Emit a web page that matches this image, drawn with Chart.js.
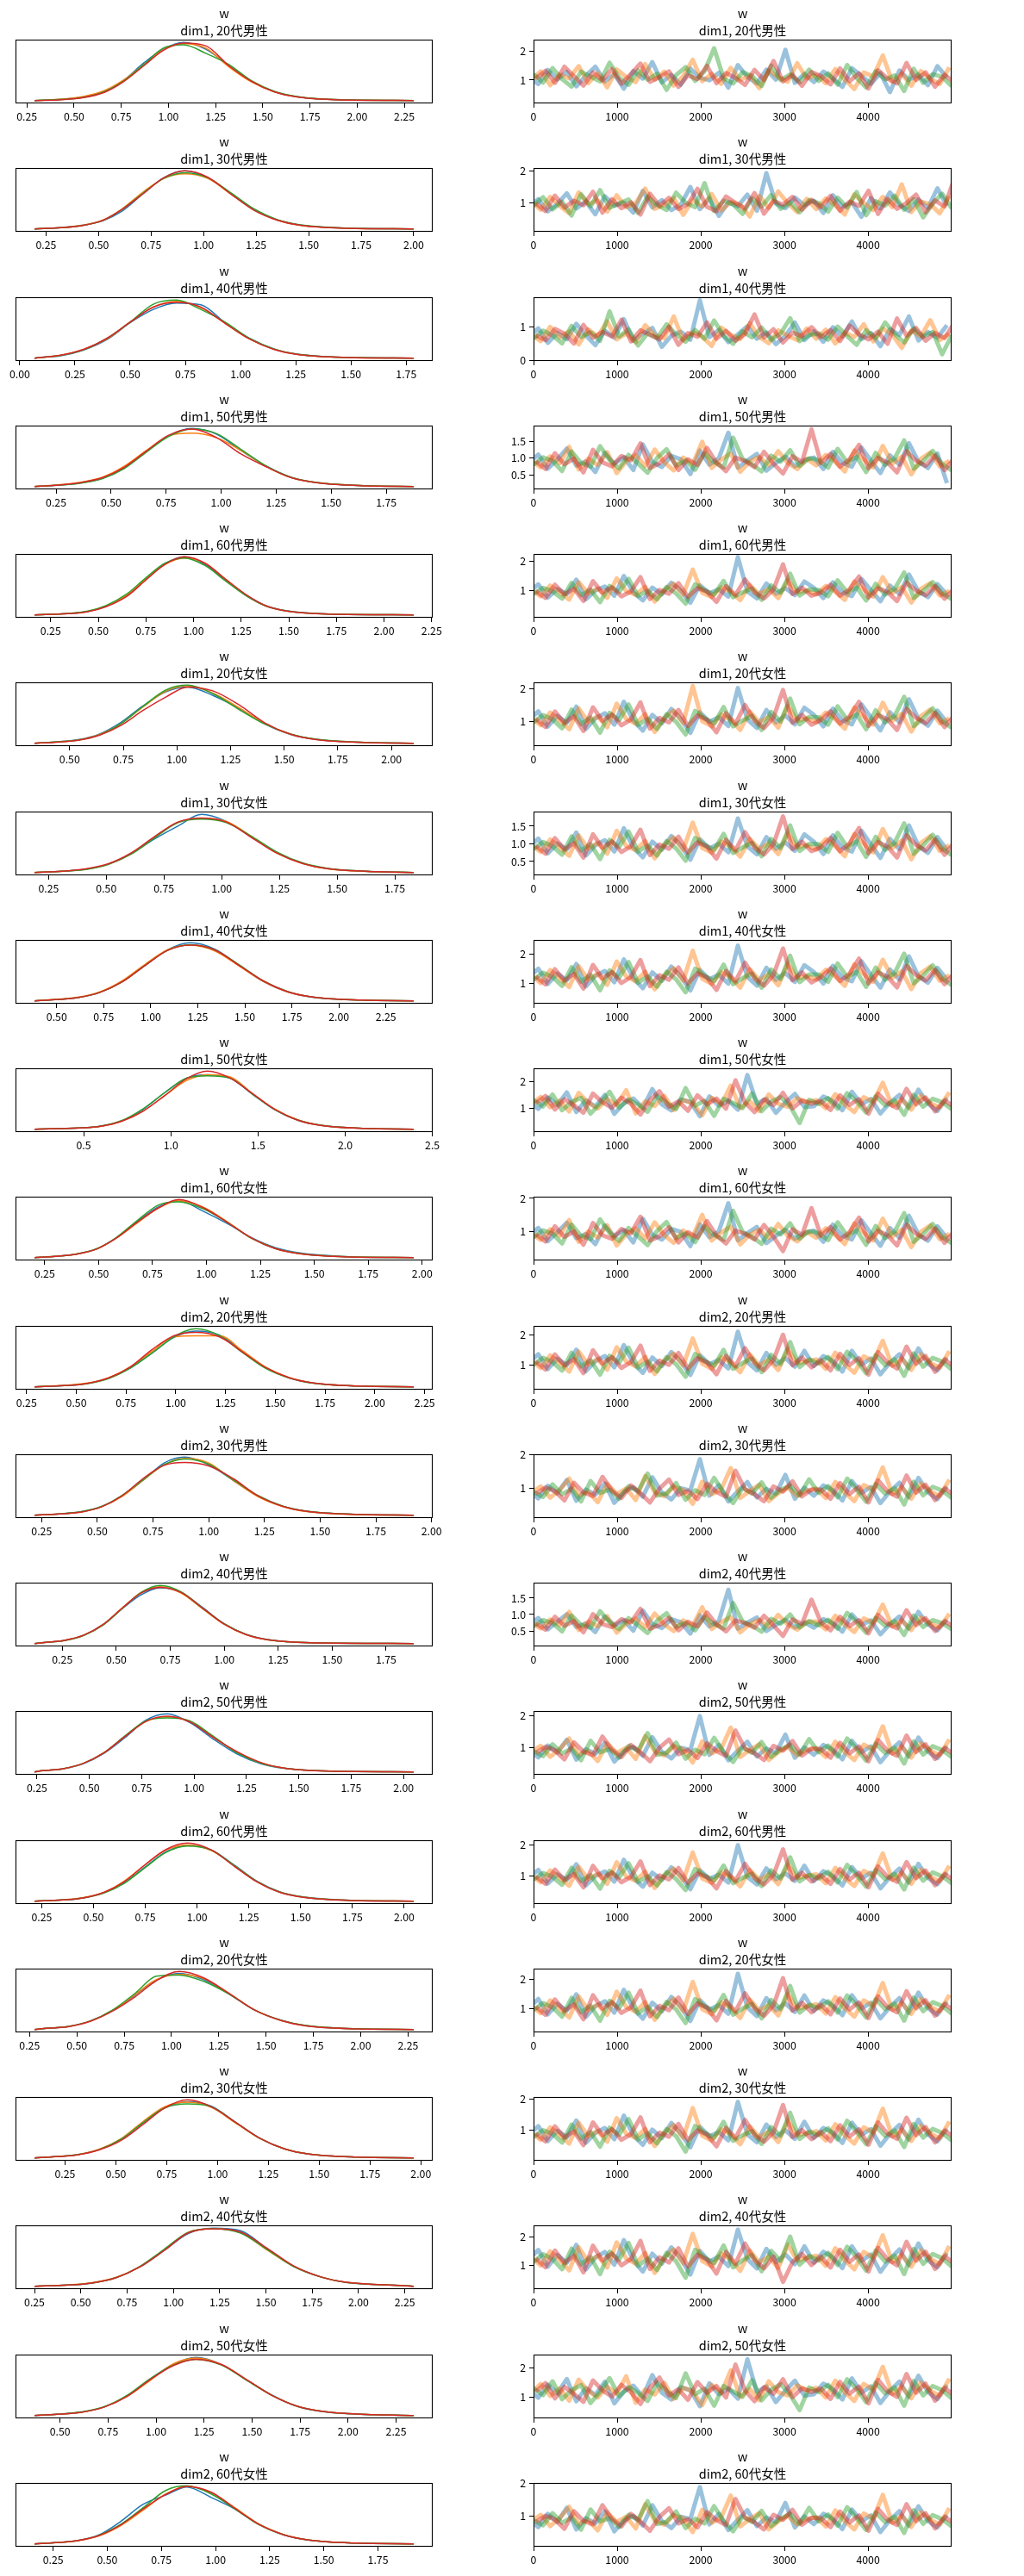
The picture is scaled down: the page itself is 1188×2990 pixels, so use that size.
<!DOCTYPE html>
<html>
<head>
<meta charset="utf-8">
<script src="https://cdn.jsdelivr.net/npm/chart.js@4.4.1/dist/chart.umd.min.js"></script>
<style>
  html, body { margin: 0; padding: 0; background: #fff; }
  #fig { position: relative; width: 1188px; height: 2990px; overflow: hidden; }
  #fig canvas { position: absolute; }
</style>
</head>
<body>
<div id="fig"></div>
<script>
// ==========================================
//  TRACE PLOT: posterior density + chains
// ==========================================

// === DATA ===
const panelNames = [
  'dim1, 20代男性', 'dim1, 30代男性', 'dim1, 40代男性', 'dim1, 50代男性', 'dim1, 60代男性',
  'dim1, 20代女性', 'dim1, 30代女性', 'dim1, 40代女性', 'dim1, 50代女性', 'dim1, 60代女性',
  'dim2, 20代男性', 'dim2, 30代男性', 'dim2, 40代男性', 'dim2, 50代男性', 'dim2, 60代男性',
  'dim2, 20代女性', 'dim2, 30代女性', 'dim2, 40代女性', 'dim2, 50代女性', 'dim2, 60代女性'
];

// x positions of the density curves (value of w), one row per panel
const kdeGrid = [
  [0.29,0.44,0.55,0.66,0.76,0.87,0.97,1.08,1.20,1.32,1.44,1.56,1.68,1.91,2.30],
  [0.195,0.32,0.42,0.52,0.61,0.71,0.81,0.91,1.02,1.13,1.24,1.35,1.46,1.68,2.00],
  [0.067,0.09,0.185,0.29,0.395,0.50,0.605,0.71,0.82,0.93,1.04,1.15,1.26,1.48,1.784],
  [0.152,0.25,0.35,0.46,0.56,0.66,0.76,0.866,0.98,1.09,1.21,1.32,1.44,1.66,1.875],
  [0.165,0.34,0.44,0.54,0.65,0.75,0.85,0.953,1.06,1.17,1.28,1.38,1.49,1.71,2.156],
  [0.336,0.43,0.54,0.64,0.74,0.84,0.95,1.05,1.17,1.29,1.41,1.53,1.65,1.89,2.104],
  [0.189,0.31,0.41,0.51,0.61,0.71,0.81,0.913,1.02,1.13,1.24,1.35,1.46,1.68,1.832],
  [0.382,0.49,0.61,0.73,0.85,0.97,1.09,1.21,1.34,1.47,1.60,1.73,1.86,2.12,2.398],
  [0.218,0.475,0.60,0.72,0.84,0.965,1.09,1.21,1.34,1.47,1.60,1.73,1.86,2.12,2.393],
  [0.203,0.30,0.39,0.49,0.58,0.68,0.78,0.872,0.985,1.10,1.21,1.32,1.44,1.66,1.961],
  [0.29,0.44,0.55,0.66,0.77,0.88,0.99,1.10,1.22,1.335,1.45,1.57,1.69,1.92,2.195],
  [0.218,0.33,0.43,0.52,0.61,0.705,0.80,0.891,1.00,1.11,1.22,1.33,1.44,1.66,1.92],
  [0.121,0.175,0.26,0.35,0.44,0.527,0.615,0.703,0.80,0.90,1.00,1.10,1.20,1.40,1.878],
  [0.238,0.275,0.375,0.47,0.57,0.67,0.77,0.872,0.98,1.09,1.205,1.32,1.43,1.65,2.049],
  [0.215,0.35,0.45,0.55,0.65,0.75,0.85,0.953,1.07,1.18,1.29,1.40,1.52,1.74,2.046],
  [0.276,0.34,0.46,0.57,0.69,0.81,0.92,1.04,1.17,1.31,1.44,1.58,1.71,1.98,2.28],
  [0.10,0.20,0.31,0.42,0.53,0.635,0.74,0.852,0.97,1.09,1.21,1.33,1.45,1.69,1.965],
  [0.25,0.43,0.56,0.69,0.82,0.95,1.08,1.216,1.36,1.51,1.65,1.80,1.94,2.23,2.298],
  [0.367,0.485,0.61,0.73,0.85,0.967,1.09,1.208,1.34,1.475,1.61,1.74,1.88,2.14,2.342],
  [0.164,0.26,0.36,0.46,0.56,0.665,0.77,0.867,0.98,1.09,1.20,1.315,1.43,1.65,1.915]
];

// relative density of each chain at the kdeGrid positions
const kdeBlue = [
  [0,0.02,0.06,0.15,0.34,0.65,0.88,1.0,0.88,0.6,0.33,0.155,0.065,0.012,0],
  [0,0.02,0.06,0.14,0.30,0.60,0.88,1.0,0.88,0.61,0.34,0.155,0.065,0.012,0],
  [0,0.01,0.04,0.14,0.32,0.61,0.84,0.95,0.92,0.61,0.34,0.16,0.065,0.012,0],
  [0,0.02,0.055,0.14,0.32,0.60,0.87,1.0,0.90,0.62,0.34,0.155,0.065,0.012,0],
  [0,0.02,0.055,0.145,0.33,0.61,0.88,1.0,0.87,0.59,0.335,0.16,0.07,0.015,0],
  [0,0.02,0.06,0.16,0.36,0.64,0.89,0.97,0.82,0.60,0.33,0.15,0.065,0.012,0],
  [0,0.02,0.055,0.145,0.33,0.58,0.80,1.0,0.88,0.61,0.34,0.16,0.065,0.012,0],
  [0,0.02,0.055,0.145,0.33,0.61,0.88,1.0,0.89,0.61,0.33,0.15,0.06,0.012,0],
  [0,0.02,0.055,0.145,0.34,0.63,0.88,0.94,0.88,0.60,0.33,0.15,0.065,0.012,0],
  [0,0.02,0.055,0.145,0.33,0.62,0.88,0.98,0.80,0.58,0.34,0.17,0.075,0.015,0],
  [0,0.02,0.055,0.145,0.32,0.58,0.85,0.96,0.89,0.61,0.335,0.155,0.065,0.012,0],
  [0,0.02,0.06,0.15,0.33,0.60,0.90,1.0,0.87,0.60,0.33,0.155,0.065,0.012,0],
  [0,0.02,0.055,0.145,0.33,0.60,0.84,0.96,0.88,0.62,0.34,0.16,0.07,0.015,0],
  [0,0.02,0.055,0.14,0.32,0.59,0.89,1.0,0.85,0.57,0.31,0.14,0.06,0.012,0],
  [0,0.02,0.055,0.145,0.32,0.59,0.85,0.96,0.88,0.62,0.34,0.16,0.07,0.015,0],
  [0,0.02,0.055,0.145,0.33,0.60,0.85,0.97,0.86,0.60,0.335,0.155,0.065,0.012,0],
  [0,0.02,0.055,0.145,0.33,0.61,0.86,0.97,0.89,0.61,0.335,0.155,0.065,0.012,0],
  [0,0.02,0.055,0.145,0.33,0.61,0.90,0.99,0.95,0.63,0.34,0.155,0.065,0.012,0],
  [0,0.02,0.055,0.145,0.33,0.62,0.88,1.0,0.88,0.61,0.34,0.15,0.06,0.012,0],
  [0,0.02,0.055,0.15,0.38,0.68,0.84,0.98,0.80,0.60,0.34,0.155,0.065,0.012,0]
];
const kdeOrange = [
  [0,0.025,0.07,0.17,0.35,0.62,0.87,0.98,0.9,0.58,0.32,0.15,0.065,0.012,0],
  [0,0.02,0.06,0.15,0.34,0.63,0.87,0.95,0.87,0.60,0.335,0.15,0.06,0.01,0],
  [0,0.01,0.045,0.15,0.33,0.62,0.88,0.98,0.87,0.60,0.33,0.155,0.06,0.01,0],
  [0,0.025,0.065,0.16,0.35,0.62,0.87,0.92,0.84,0.62,0.335,0.15,0.065,0.012,0],
  [0,0.02,0.055,0.15,0.34,0.62,0.87,0.98,0.89,0.61,0.33,0.155,0.065,0.012,0],
  [0,0.02,0.055,0.15,0.34,0.62,0.90,0.99,0.86,0.61,0.335,0.155,0.065,0.012,0],
  [0,0.02,0.055,0.145,0.33,0.61,0.86,0.93,0.88,0.62,0.33,0.155,0.06,0.01,0],
  [0,0.025,0.06,0.155,0.35,0.63,0.88,0.96,0.86,0.60,0.33,0.15,0.065,0.012,0],
  [0,0.02,0.05,0.14,0.31,0.58,0.84,0.94,0.90,0.61,0.34,0.155,0.065,0.012,0],
  [0,0.02,0.055,0.145,0.33,0.60,0.86,0.98,0.87,0.61,0.33,0.155,0.065,0.012,0],
  [0,0.025,0.06,0.15,0.34,0.61,0.86,0.88,0.88,0.62,0.34,0.16,0.065,0.012,0],
  [0,0.02,0.055,0.145,0.32,0.60,0.87,0.98,0.90,0.60,0.32,0.15,0.06,0.01,0],
  [0,0.02,0.055,0.145,0.33,0.61,0.88,0.98,0.87,0.60,0.33,0.155,0.065,0.012,0],
  [0,0.02,0.055,0.145,0.33,0.61,0.87,0.95,0.87,0.60,0.34,0.155,0.065,0.012,0],
  [0,0.02,0.06,0.15,0.35,0.63,0.88,0.97,0.87,0.61,0.335,0.155,0.065,0.012,0],
  [0,0.02,0.055,0.145,0.33,0.61,0.86,0.95,0.88,0.61,0.335,0.155,0.065,0.012,0],
  [0,0.02,0.055,0.15,0.34,0.63,0.88,0.96,0.87,0.60,0.33,0.155,0.065,0.012,0],
  [0,0.02,0.06,0.15,0.34,0.62,0.92,0.98,0.92,0.61,0.335,0.155,0.065,0.012,0],
  [0,0.02,0.055,0.145,0.33,0.60,0.89,0.99,0.88,0.61,0.335,0.155,0.065,0.012,0],
  [0,0.02,0.05,0.135,0.31,0.58,0.86,0.99,0.88,0.62,0.34,0.16,0.065,0.012,0]
];
const kdeGreen = [
  [0,0.02,0.055,0.15,0.33,0.62,0.9,0.96,0.81,0.62,0.34,0.16,0.07,0.012,0],
  [0,0.02,0.055,0.145,0.33,0.61,0.87,0.97,0.88,0.62,0.34,0.16,0.07,0.015,0],
  [0,0.01,0.045,0.145,0.34,0.62,0.93,1.0,0.84,0.62,0.34,0.16,0.065,0.012,0],
  [0,0.02,0.05,0.135,0.31,0.59,0.86,0.99,0.91,0.64,0.34,0.155,0.065,0.012,0],
  [0,0.025,0.06,0.16,0.36,0.64,0.89,0.98,0.85,0.58,0.32,0.15,0.065,0.012,0],
  [0,0.02,0.055,0.145,0.34,0.63,0.92,1.0,0.85,0.58,0.33,0.16,0.07,0.012,0],
  [0,0.02,0.05,0.14,0.32,0.60,0.86,0.92,0.86,0.62,0.35,0.165,0.07,0.015,0],
  [0,0.02,0.055,0.145,0.33,0.61,0.87,0.97,0.88,0.62,0.34,0.16,0.065,0.012,0],
  [0,0.02,0.055,0.15,0.35,0.63,0.88,0.92,0.88,0.60,0.33,0.16,0.07,0.012,0],
  [0,0.02,0.055,0.15,0.34,0.64,0.91,0.96,0.84,0.60,0.33,0.155,0.065,0.012,0],
  [0,0.02,0.05,0.14,0.32,0.58,0.86,1.0,0.88,0.59,0.32,0.15,0.06,0.012,0],
  [0,0.02,0.06,0.15,0.34,0.61,0.87,0.97,0.88,0.61,0.34,0.16,0.07,0.015,0],
  [0,0.02,0.05,0.14,0.32,0.60,0.88,1.0,0.89,0.61,0.34,0.16,0.065,0.012,0],
  [0,0.02,0.055,0.145,0.33,0.62,0.88,0.93,0.88,0.62,0.33,0.15,0.065,0.012,0],
  [0,0.02,0.055,0.14,0.31,0.58,0.84,0.95,0.88,0.61,0.335,0.155,0.065,0.012,0],
  [0,0.02,0.055,0.145,0.34,0.63,0.92,0.94,0.83,0.60,0.335,0.16,0.07,0.012,0],
  [0,0.02,0.055,0.145,0.33,0.61,0.86,0.93,0.88,0.61,0.335,0.155,0.065,0.012,0],
  [0,0.02,0.055,0.145,0.34,0.63,0.92,0.98,0.91,0.62,0.335,0.155,0.06,0.012,0],
  [0,0.02,0.06,0.15,0.35,0.63,0.87,0.97,0.87,0.60,0.335,0.155,0.065,0.012,0],
  [0,0.02,0.055,0.145,0.33,0.62,0.92,1.0,0.86,0.60,0.33,0.155,0.065,0.012,0]
];
const kdeRed = [
  [0,0.015,0.05,0.14,0.32,0.6,0.86,0.99,0.94,0.6,0.33,0.15,0.06,0.01,0],
  [0,0.02,0.055,0.145,0.33,0.60,0.88,1.0,0.89,0.60,0.32,0.15,0.06,0.01,0],
  [0,0.01,0.05,0.15,0.34,0.62,0.88,0.96,0.88,0.60,0.33,0.15,0.06,0.01,0],
  [0,0.02,0.06,0.15,0.33,0.61,0.88,0.99,0.84,0.56,0.33,0.15,0.06,0.01,0],
  [0,0.02,0.05,0.14,0.32,0.60,0.87,1.0,0.89,0.61,0.34,0.155,0.065,0.012,0],
  [0,0.015,0.05,0.14,0.31,0.56,0.80,0.97,0.90,0.66,0.35,0.155,0.06,0.01,0],
  [0,0.02,0.06,0.15,0.34,0.62,0.87,0.94,0.87,0.60,0.33,0.155,0.065,0.012,0],
  [0,0.02,0.055,0.145,0.33,0.61,0.87,0.96,0.88,0.61,0.34,0.155,0.065,0.012,0],
  [0,0.02,0.05,0.14,0.31,0.58,0.87,1.0,0.88,0.61,0.335,0.155,0.065,0.012,0],
  [0,0.02,0.055,0.145,0.33,0.61,0.86,1.0,0.86,0.60,0.335,0.155,0.06,0.01,0],
  [0,0.02,0.055,0.15,0.34,0.64,0.88,0.94,0.86,0.60,0.335,0.155,0.065,0.012,0],
  [0,0.02,0.055,0.145,0.33,0.63,0.86,0.91,0.85,0.63,0.335,0.155,0.065,0.012,0],
  [0,0.02,0.055,0.145,0.33,0.61,0.87,0.97,0.88,0.61,0.335,0.155,0.065,0.012,0],
  [0,0.02,0.055,0.145,0.33,0.61,0.87,0.96,0.86,0.60,0.35,0.16,0.065,0.012,0],
  [0,0.02,0.055,0.15,0.34,0.63,0.89,1.0,0.88,0.60,0.33,0.15,0.06,0.01,0],
  [0,0.02,0.05,0.14,0.32,0.57,0.84,1.0,0.89,0.61,0.335,0.155,0.06,0.01,0],
  [0,0.02,0.05,0.14,0.31,0.58,0.86,1.0,0.88,0.61,0.335,0.155,0.065,0.012,0],
  [0,0.02,0.055,0.145,0.33,0.61,0.91,0.98,0.93,0.64,0.345,0.155,0.065,0.012,0],
  [0,0.02,0.055,0.145,0.33,0.61,0.86,0.97,0.88,0.61,0.335,0.155,0.065,0.012,0],
  [0,0.02,0.055,0.14,0.32,0.60,0.85,0.99,0.89,0.61,0.335,0.155,0.065,0.012,0]
];

const kdeTicks = [
  [0.25,0.5,0.75,1,1.25,1.5,1.75,2,2.25],
  [0.25,0.5,0.75,1,1.25,1.5,1.75,2],
  [0,0.25,0.5,0.75,1,1.25,1.5,1.75],
  [0.25,0.5,0.75,1,1.25,1.5,1.75],
  [0.25,0.5,0.75,1,1.25,1.5,1.75,2,2.25],
  [0.5,0.75,1,1.25,1.5,1.75,2],
  [0.25,0.5,0.75,1,1.25,1.5,1.75],
  [0.5,0.75,1,1.25,1.5,1.75,2,2.25],
  [0.5,1,1.5,2,2.5],
  [0.25,0.5,0.75,1,1.25,1.5,1.75,2],
  [0.25,0.5,0.75,1,1.25,1.5,1.75,2,2.25],
  [0.25,0.5,0.75,1,1.25,1.5,1.75,2],
  [0.25,0.5,0.75,1,1.25,1.5,1.75],
  [0.25,0.5,0.75,1,1.25,1.5,1.75,2],
  [0.25,0.5,0.75,1,1.25,1.5,1.75,2],
  [0.25,0.5,0.75,1,1.25,1.5,1.75,2,2.25],
  [0.25,0.5,0.75,1,1.25,1.5,1.75,2],
  [0.25,0.5,0.75,1,1.25,1.5,1.75,2,2.25],
  [0.5,0.75,1,1.25,1.5,1.75,2,2.25],
  [0.25,0.5,0.75,1,1.25,1.5,1.75]
];

// thinned draws of each chain, one row per panel
const traceBlue = [
  [1.12,0.86,1.35,1.02,1.28,0.78,1.15,1.46,0.95,1.20,0.70,1.31,1.05,1.62,0.92,1.18,0.84,1.40,1.08,0.99,1.25,0.74,1.52,1.11,0.88,1.36,1.01,2.05,0.90,1.22,0.93,1.29,1.06,0.76,1.41,1.15,0.87,1.24,0.58,1.33,1.00,1.19,0.82,1.48,1.09],
  [0.88,1.12,0.74,0.97,1.30,0.83,1.05,0.65,1.21,0.92,1.01,0.70,1.38,0.86,1.09,0.78,0.95,1.50,0.81,1.14,0.60,1.02,0.90,1.26,0.76,1.93,0.98,0.84,1.17,0.93,1.07,0.69,1.24,0.88,1.02,0.57,1.15,0.83,1.33,0.94,0.75,1.11,0.85,1.46,0.91],
  [0.70,0.95,0.52,0.81,0.63,1.08,0.74,0.45,0.88,0.67,1.22,0.58,0.79,0.96,0.40,0.73,0.85,0.61,1.78,0.69,0.90,0.54,0.77,1.01,0.64,0.83,0.48,0.72,1.12,0.60,0.86,0.55,0.98,0.70,1.15,0.63,0.81,0.42,0.92,0.75,1.30,0.59,0.84,0.67,1.04],
  [0.86,1.10,0.68,0.95,1.28,0.77,0.90,0.58,1.15,0.83,1.02,0.64,1.40,0.88,0.73,1.06,0.96,0.52,1.22,0.80,0.99,1.75,0.71,0.92,1.12,0.62,0.85,1.04,0.75,0.94,1.01,0.67,1.18,0.85,0.74,1.31,0.92,0.55,1.08,0.80,1.44,0.89,0.70,1.13,0.25],
  [0.95,1.21,0.76,1.05,0.88,1.37,0.70,1.00,1.14,0.82,1.50,0.93,0.66,1.10,0.87,1.27,0.99,0.58,1.18,0.91,1.04,0.79,2.15,0.97,0.73,1.24,0.89,1.08,0.84,1.31,1.09,0.74,1.28,0.93,0.81,1.40,1.01,0.63,1.17,0.88,1.55,0.97,0.77,1.22,0.86],
  [1.05,1.31,0.84,1.17,0.96,1.45,0.77,1.09,1.25,0.90,1.60,1.02,0.72,1.20,0.94,1.38,1.07,0.65,1.28,0.99,1.13,0.86,2.02,1.06,0.80,1.35,0.97,1.18,0.91,1.42,1.20,0.85,1.39,1.03,0.91,1.52,1.12,0.73,1.28,0.98,1.68,1.08,0.87,1.33,0.97],
  [0.91,1.15,0.73,1.01,0.84,1.32,0.67,0.96,1.10,0.78,1.44,0.89,0.62,1.06,0.83,1.22,0.95,0.55,1.13,0.87,1.00,0.76,1.72,0.93,0.70,1.19,0.86,1.04,0.80,1.27,1.06,0.71,1.24,0.90,0.78,1.37,0.98,0.60,1.14,0.85,1.52,0.94,0.74,1.19,0.83],
  [1.20,1.50,0.97,1.33,1.10,1.66,0.88,1.25,1.42,1.03,1.82,1.16,0.82,1.37,1.07,1.57,1.22,0.74,1.46,1.13,1.29,0.98,2.30,1.21,0.91,1.53,1.11,1.35,1.04,1.62,1.38,0.98,1.60,1.19,1.06,1.76,1.28,0.84,1.47,1.13,1.93,1.24,1.01,1.53,1.12],
  [1.25,0.98,1.41,1.13,1.60,0.86,1.30,1.07,1.50,0.79,1.19,1.37,1.02,1.72,1.15,0.92,1.33,1.24,0.70,1.45,1.10,1.28,0.95,2.25,1.18,1.36,0.83,1.22,1.54,1.05,1.08,1.44,1.27,0.93,1.62,1.15,1.35,0.81,1.21,1.50,1.02,1.70,1.18,0.90,1.39],
  [0.87,1.10,0.70,0.97,1.26,0.79,0.92,0.61,1.17,0.85,1.03,0.66,1.38,0.89,0.75,1.07,0.98,0.55,1.21,0.82,1.00,1.85,0.73,0.94,1.13,0.64,0.86,1.05,0.77,0.95,1.02,0.68,1.20,0.86,0.75,1.33,0.94,0.56,1.10,0.81,1.47,0.90,0.71,1.15,0.79],
  [1.09,1.36,0.87,1.21,1.00,1.51,0.80,1.13,1.30,0.93,1.66,1.06,0.75,1.25,0.97,1.43,1.11,0.68,1.33,1.03,1.17,0.89,2.10,1.10,0.83,1.40,1.01,1.23,0.95,1.47,0.97,1.30,1.14,0.79,1.47,1.02,1.22,0.70,1.08,1.36,0.90,1.55,1.05,0.83,1.25],
  [0.93,0.71,1.08,0.86,1.25,0.64,0.97,0.82,1.15,0.58,0.90,1.04,0.76,1.33,0.88,0.68,1.01,0.94,1.86,0.79,1.10,0.62,0.92,1.19,0.74,0.99,0.85,1.40,0.70,1.02,0.79,1.09,0.95,0.65,1.22,0.87,1.04,0.57,0.91,1.17,0.74,1.31,0.89,0.69,1.06],
  [0.70,0.89,0.55,0.78,1.01,0.62,0.73,0.47,0.94,0.67,0.82,0.51,1.12,0.71,0.59,0.86,0.77,0.42,0.98,0.64,0.80,1.75,0.57,0.75,0.91,0.50,0.69,0.84,0.61,0.76,0.60,0.86,0.74,0.48,1.00,0.69,0.82,0.40,0.71,0.94,0.57,1.08,0.70,0.52,0.85],
  [0.91,0.69,1.06,0.84,1.24,0.62,0.95,0.80,1.14,0.56,0.88,1.02,0.74,1.32,0.86,0.66,0.99,0.92,1.98,0.77,1.08,0.60,0.90,1.18,0.72,0.97,0.83,1.40,0.68,1.00,0.77,1.08,0.93,0.63,1.21,0.85,1.03,0.54,0.89,1.16,0.72,1.31,0.87,0.67,1.05],
  [0.95,1.20,0.77,1.06,0.89,1.38,0.71,1.01,1.15,0.83,1.52,0.94,0.67,1.11,0.88,1.28,1.00,0.59,1.19,0.92,1.05,0.80,1.98,0.98,0.74,1.25,0.90,1.09,0.85,1.33,0.85,1.16,1.01,0.71,1.29,0.93,1.11,0.62,0.97,1.24,0.80,1.39,0.95,0.75,1.13],
  [1.03,1.33,0.80,1.16,0.93,1.49,0.71,1.08,1.25,0.86,1.65,0.99,0.65,1.20,0.90,1.40,1.05,0.57,1.29,0.96,1.12,0.82,2.20,1.04,0.74,1.36,0.94,1.18,0.88,1.45,0.92,1.28,1.11,0.77,1.46,1.00,1.20,0.66,1.05,1.36,0.85,1.55,1.02,0.79,1.24],
  [0.85,1.12,0.64,0.97,0.76,1.30,0.58,0.90,1.06,0.70,1.46,0.82,0.52,1.01,0.73,1.22,0.87,0.44,1.10,0.79,0.93,0.66,1.90,0.86,0.60,1.17,0.77,0.99,0.71,1.26,0.74,1.06,0.91,0.58,1.23,0.84,1.02,0.49,0.87,1.16,0.69,1.33,0.85,0.63,1.04],
  [1.20,1.53,0.94,1.35,1.08,1.71,0.84,1.26,1.46,1.01,1.88,1.16,0.77,1.40,1.05,1.62,1.22,0.66,1.50,1.12,1.30,0.96,2.25,1.21,0.88,1.57,1.10,1.37,1.03,1.66,1.08,1.47,1.27,0.89,1.66,1.15,1.37,0.76,1.21,1.55,0.99,1.76,1.17,0.92,1.42],
  [1.24,0.97,1.42,1.12,1.61,0.85,1.30,1.06,1.51,0.78,1.18,1.38,1.01,1.74,1.14,0.91,1.33,1.23,0.68,1.46,1.09,1.28,0.94,2.28,1.17,1.36,0.82,1.21,1.55,1.04,1.09,1.45,1.27,0.91,1.63,1.14,1.36,0.79,1.20,1.52,1.00,1.72,1.17,0.92,1.40],
  [0.90,0.67,1.07,0.82,1.25,0.60,0.94,0.78,1.14,0.54,0.87,1.01,0.72,1.33,0.85,0.64,0.98,0.91,1.88,0.75,1.07,0.58,0.89,1.18,0.70,0.96,0.82,1.40,0.66,0.99,0.76,1.07,0.92,0.61,1.20,0.84,1.02,0.52,0.88,1.15,0.71,1.30,0.86,0.66,1.04]
];
const traceOrange = [
  [0.98,1.30,0.82,1.19,1.06,1.48,0.89,1.24,0.75,1.37,1.10,0.93,1.55,1.02,1.29,0.81,1.14,1.70,0.96,1.21,0.87,1.42,1.00,1.16,0.72,1.34,1.09,0.94,1.58,1.05,1.17,0.89,1.38,1.01,0.69,1.26,1.12,1.85,0.94,1.22,0.80,1.31,1.04,0.86,1.44],
  [1.05,0.79,1.19,0.91,0.68,1.33,0.96,1.08,0.73,1.24,0.87,1.00,1.45,0.82,0.94,1.16,0.63,1.10,0.89,1.28,0.77,1.03,0.95,0.58,1.22,0.85,1.36,0.99,0.72,1.13,0.81,1.14,0.93,0.64,1.27,1.00,0.78,1.19,0.87,1.58,0.72,1.05,0.96,0.68,1.21],
  [0.78,0.57,0.99,0.68,0.86,0.47,0.92,0.71,1.15,0.62,0.80,0.53,1.04,0.75,0.66,1.30,0.59,0.84,0.70,0.43,0.97,0.76,0.63,1.10,0.69,0.51,0.89,0.73,0.60,0.94,0.64,0.91,0.50,0.82,0.69,1.07,0.56,0.94,0.76,0.37,0.88,0.71,1.19,0.60,0.79],
  [0.93,0.72,1.05,0.84,1.33,0.66,0.98,0.79,1.17,0.55,0.90,1.08,0.76,1.25,0.87,0.63,1.01,0.82,1.48,0.70,0.95,1.13,0.59,0.89,1.03,0.78,1.20,0.85,0.67,0.97,0.78,1.09,0.88,0.60,1.22,0.95,0.72,1.36,0.83,1.04,0.51,0.97,1.16,0.75,0.91],
  [1.02,0.80,1.17,0.94,0.69,1.29,0.90,1.07,0.75,1.42,0.98,0.85,1.13,0.62,1.01,1.23,0.86,1.72,0.92,0.78,1.11,0.96,0.67,1.19,0.88,1.05,0.74,1.35,0.93,1.00,0.87,1.16,0.96,0.68,1.31,1.03,0.79,1.46,0.91,1.12,0.59,1.05,1.25,0.83,0.99],
  [1.12,0.88,1.27,1.03,0.76,1.40,0.98,1.16,0.82,1.54,1.08,0.93,1.22,0.68,1.10,1.33,0.95,2.08,1.01,0.85,1.21,1.05,0.74,1.30,0.97,1.14,0.81,1.47,1.02,1.09,0.98,1.27,1.07,0.78,1.43,1.14,0.90,1.57,1.02,1.23,0.69,1.16,1.36,0.94,1.10],
  [0.97,0.77,1.12,0.90,0.66,1.24,0.86,1.03,0.72,1.37,0.94,0.82,1.08,0.59,0.97,1.18,0.83,1.60,0.88,0.75,1.07,0.92,0.64,1.14,0.85,1.01,0.71,1.30,0.90,0.96,0.84,1.13,0.93,0.65,1.28,1.00,0.76,1.42,0.88,1.09,0.56,1.02,1.22,0.80,0.96],
  [1.28,1.00,1.45,1.17,0.86,1.59,1.12,1.32,0.94,1.75,1.23,1.06,1.39,0.78,1.26,1.51,1.08,2.12,1.15,0.97,1.38,1.20,0.84,1.48,1.10,1.30,0.92,1.67,1.16,1.24,1.13,1.46,1.23,0.90,1.65,1.31,1.04,1.81,1.18,1.41,0.79,1.34,1.57,1.08,1.27],
  [1.16,1.43,1.04,1.29,0.88,1.58,1.21,0.99,1.35,1.12,1.68,0.81,1.26,1.09,1.47,0.94,1.31,1.19,0.74,1.40,1.14,1.85,1.01,1.27,0.90,1.52,1.17,1.06,1.38,1.23,1.31,1.00,1.53,1.14,0.86,1.42,1.25,1.96,1.09,1.33,0.95,1.48,1.19,1.04,1.60],
  [0.94,0.74,1.06,0.86,1.34,0.68,0.99,0.81,1.18,0.57,0.91,1.09,0.78,1.27,0.88,0.65,1.02,0.84,1.50,0.72,0.96,1.14,0.60,0.90,1.04,0.80,1.22,0.87,0.69,0.98,0.80,1.09,0.89,0.61,1.24,0.96,0.72,1.38,0.84,1.05,0.52,0.98,1.18,0.76,0.92],
  [1.16,0.91,1.32,1.07,0.79,1.45,1.02,1.20,0.85,1.59,1.12,0.96,1.27,0.71,1.14,1.38,0.99,1.88,1.05,0.88,1.26,1.09,0.77,1.35,1.00,1.18,0.84,1.52,1.06,1.13,1.19,0.88,1.41,1.03,0.75,1.29,1.13,1.80,0.98,1.21,0.84,1.35,1.07,0.92,1.46],
  [0.87,1.06,0.73,0.96,1.29,0.80,0.91,0.60,1.13,0.84,1.00,0.66,1.37,0.89,0.77,1.05,0.95,0.55,1.20,0.83,0.98,1.60,0.72,0.93,1.11,0.63,0.86,1.03,0.78,0.94,1.00,0.72,1.19,0.88,0.63,1.10,0.96,1.62,0.83,1.03,0.70,1.14,0.92,0.78,1.26],
  [0.75,0.58,0.85,0.68,1.08,0.53,0.79,0.64,0.95,0.45,0.72,0.88,0.61,1.03,0.70,0.50,0.82,0.66,1.22,0.56,0.77,0.92,0.46,0.71,0.84,0.63,0.99,0.69,0.54,0.78,0.79,0.55,0.96,0.69,0.47,0.88,0.75,1.30,0.64,0.81,0.53,0.91,0.72,0.61,1.02],
  [0.86,1.05,0.71,0.95,1.28,0.78,0.89,0.58,1.12,0.83,0.99,0.64,1.36,0.88,0.75,1.04,0.94,0.53,1.19,0.81,0.97,1.62,0.70,0.92,1.10,0.61,0.85,1.02,0.76,0.93,0.98,0.70,1.18,0.86,0.61,1.09,0.94,1.66,0.81,1.02,0.68,1.13,0.90,0.76,1.25],
  [1.03,0.81,1.18,0.95,0.70,1.30,0.91,1.08,0.76,1.44,0.99,0.86,1.14,0.63,1.02,1.24,0.87,1.75,0.93,0.79,1.12,0.97,0.68,1.20,0.89,1.06,0.75,1.36,0.94,1.01,1.06,0.78,1.26,0.94,0.69,1.17,1.02,1.72,0.89,1.10,0.76,1.21,0.98,0.84,1.33],
  [1.10,0.84,1.28,1.00,0.69,1.42,0.95,1.14,0.78,1.58,1.06,0.89,1.22,0.61,1.08,1.34,0.91,1.92,0.98,0.80,1.21,1.03,0.67,1.31,0.93,1.12,0.76,1.50,0.99,1.07,1.15,0.83,1.39,1.01,0.72,1.28,1.10,1.88,0.95,1.19,0.81,1.33,1.06,0.90,1.47],
  [0.92,0.68,1.08,0.83,0.56,1.23,0.79,0.97,0.62,1.38,0.88,0.74,1.03,0.48,0.90,1.15,0.75,1.70,0.81,0.66,1.02,0.86,0.54,1.11,0.77,0.94,0.61,1.29,0.82,0.89,0.96,0.66,1.18,0.83,0.56,1.08,0.92,1.68,0.79,1.00,0.64,1.13,0.88,0.73,1.27],
  [1.28,0.98,1.48,1.17,0.81,1.63,1.11,1.33,0.91,1.80,1.23,1.04,1.42,0.72,1.26,1.55,1.06,2.10,1.14,0.95,1.41,1.20,0.79,1.51,1.09,1.30,0.89,1.72,1.16,1.25,1.33,0.97,1.59,1.17,0.85,1.46,1.26,2.05,1.10,1.35,0.94,1.51,1.22,1.03,1.67],
  [1.15,1.44,1.03,1.29,0.87,1.59,1.20,0.98,1.35,1.11,1.70,0.80,1.25,1.08,1.48,0.93,1.31,1.18,0.72,1.41,1.13,1.90,1.00,1.27,0.89,1.53,1.16,1.05,1.39,1.22,1.31,0.98,1.55,1.16,0.86,1.44,1.25,2.02,1.10,1.34,0.95,1.49,1.21,1.04,1.62],
  [0.85,1.04,0.70,0.94,1.28,0.77,0.88,0.57,1.11,0.82,0.98,0.63,1.36,0.87,0.74,1.03,0.93,0.52,1.19,0.80,0.96,1.62,0.69,0.91,1.09,0.60,0.84,1.01,0.75,0.92,0.97,0.69,1.17,0.85,0.60,1.08,0.93,1.64,0.80,1.01,0.67,1.12,0.89,0.75,1.24]
];
const traceGreen = [
  [1.20,0.91,1.41,1.03,0.77,1.29,1.12,0.95,1.60,1.08,0.83,1.34,1.01,1.22,0.66,1.17,1.45,0.97,1.31,2.10,1.06,0.88,1.27,1.14,0.79,1.50,1.00,1.19,0.92,1.36,0.97,1.23,0.84,1.52,1.07,0.74,1.30,1.02,1.16,0.62,1.39,0.90,1.20,1.11,0.79],
  [0.92,1.18,0.80,1.04,0.61,1.27,0.90,1.40,0.85,0.99,1.11,0.69,1.20,0.94,0.78,1.32,1.01,0.87,1.62,0.75,1.07,0.96,0.66,1.15,0.89,1.25,0.82,1.03,0.71,1.09,1.00,0.73,1.17,0.86,1.34,0.62,1.06,0.92,1.23,0.79,1.12,0.55,0.98,1.29,0.84],
  [0.65,0.88,0.74,0.50,1.02,0.69,0.83,0.58,1.45,0.71,0.92,0.44,0.80,0.66,1.07,0.77,0.55,0.90,0.64,1.18,0.73,0.49,0.86,0.68,0.97,0.61,0.79,1.25,0.57,0.75,0.80,0.61,1.00,0.72,0.46,0.89,0.66,1.12,0.78,0.53,0.95,0.70,0.84,0.18,0.74],
  [0.80,1.02,0.91,0.61,1.19,0.85,0.74,1.35,0.94,0.69,1.09,0.83,0.56,1.00,1.26,0.78,0.92,0.65,1.14,0.88,0.72,1.60,0.97,0.81,0.60,1.07,0.89,1.23,0.76,0.99,0.94,0.71,1.27,0.87,1.03,0.58,1.15,0.79,0.99,1.52,0.68,0.90,1.21,0.82,0.63],
  [0.89,1.09,0.97,0.72,1.26,0.84,1.03,0.60,1.16,0.95,1.40,0.81,0.99,0.70,1.12,0.90,0.55,1.22,1.01,0.86,1.33,0.77,0.94,1.07,0.68,1.18,0.92,1.58,0.83,1.04,1.02,0.80,1.35,0.94,1.10,0.66,1.23,0.86,1.06,1.62,0.75,0.98,1.29,0.89,0.71],
  [0.98,1.19,1.06,0.79,1.36,0.92,1.12,0.66,1.26,1.04,1.52,0.89,1.08,0.77,1.22,0.99,0.60,1.32,1.10,0.94,1.44,0.85,1.03,1.17,0.74,1.29,1.00,1.70,0.91,1.14,1.13,0.90,1.46,1.05,1.21,0.76,1.34,0.97,1.17,1.75,0.86,1.09,1.40,1.00,0.81],
  [0.86,1.05,0.93,0.69,1.21,0.81,0.99,0.57,1.11,0.91,1.35,0.78,0.95,0.67,1.08,0.87,0.52,1.17,0.97,0.83,1.28,0.74,0.90,1.03,0.65,1.14,0.88,1.52,0.80,1.00,0.99,0.77,1.31,0.91,1.07,0.63,1.20,0.83,1.03,1.58,0.72,0.95,1.26,0.86,0.68],
  [1.12,1.36,1.21,0.90,1.55,1.05,1.28,0.75,1.44,1.18,1.73,1.01,1.23,0.87,1.39,1.13,0.68,1.50,1.25,1.07,1.64,0.96,1.17,1.33,0.84,1.47,1.14,1.95,1.03,1.30,1.30,1.04,1.68,1.21,1.39,0.87,1.54,1.11,1.35,2.02,0.99,1.25,1.62,1.15,0.93],
  [1.30,1.07,1.52,0.93,1.24,1.39,0.80,1.18,1.62,1.03,1.33,1.14,0.87,1.47,1.21,0.97,1.76,1.10,1.28,0.72,1.36,1.20,1.01,1.56,0.89,1.25,1.42,1.08,0.45,1.32,1.16,1.38,0.99,1.57,1.26,0.84,1.45,1.11,1.30,0.76,1.51,1.06,1.36,1.23,0.97],
  [0.82,1.03,0.92,0.63,1.20,0.86,0.76,1.36,0.95,0.71,1.10,0.84,0.58,1.01,1.28,0.80,0.93,0.67,1.15,0.89,0.74,1.62,0.98,0.83,0.62,1.08,0.90,1.24,0.78,1.00,0.95,0.73,1.27,0.87,1.03,0.59,1.16,0.79,0.99,1.55,0.68,0.91,1.22,0.82,0.64],
  [1.02,1.24,1.10,0.82,1.41,0.96,1.16,0.69,1.31,1.08,1.58,0.92,1.12,0.80,1.27,1.03,0.62,1.37,1.14,0.98,1.50,0.88,1.07,1.22,0.77,1.34,1.04,1.76,0.94,1.19,1.05,1.27,0.87,1.44,1.15,0.73,1.33,1.00,1.19,0.65,1.39,0.95,1.24,1.12,0.86],
  [0.90,0.75,1.12,0.83,0.99,0.62,1.22,0.87,0.97,0.70,1.07,0.92,1.44,0.79,0.86,1.16,0.67,0.95,0.81,1.31,0.89,0.57,1.02,0.85,1.18,0.73,0.96,1.09,0.80,1.27,0.87,1.07,0.74,1.29,0.97,0.61,1.13,0.85,1.01,0.53,1.20,0.80,1.05,0.94,0.72],
  [0.65,0.83,0.74,0.49,0.97,0.68,0.60,1.10,0.76,0.56,0.89,0.67,0.44,0.81,1.04,0.63,0.74,0.52,0.93,0.71,0.58,1.35,0.79,0.66,0.48,0.87,0.72,1.00,0.61,0.80,0.67,0.84,0.57,1.05,0.77,0.45,0.90,0.66,0.80,0.38,0.97,0.62,0.83,0.74,0.55],
  [0.88,0.73,1.10,0.81,0.97,0.60,1.21,0.85,0.95,0.68,1.05,0.90,1.45,0.77,0.84,1.15,0.65,0.93,0.79,1.30,0.87,0.55,1.00,0.83,1.17,0.71,0.94,1.08,0.78,1.26,0.85,1.06,0.72,1.28,0.95,0.59,1.12,0.83,0.99,0.50,1.19,0.78,1.04,0.92,0.70],
  [0.90,1.10,0.98,0.73,1.27,0.85,1.04,0.61,1.17,0.96,1.41,0.82,1.00,0.71,1.13,0.91,0.56,1.23,1.02,0.87,1.34,0.78,0.95,1.08,0.69,1.19,0.93,1.60,0.84,1.05,0.93,1.14,0.80,1.36,1.03,0.67,1.20,0.91,1.07,0.58,1.27,0.86,1.12,1.00,0.78],
  [0.95,1.19,1.04,0.72,1.37,0.87,1.10,0.58,1.27,1.01,1.55,0.83,1.06,0.70,1.23,0.97,0.50,1.33,1.08,0.92,1.47,0.79,1.00,1.16,0.66,1.30,0.98,1.78,0.86,1.13,1.01,1.25,0.86,1.45,1.12,0.69,1.32,0.98,1.17,0.58,1.38,0.91,1.22,1.09,0.82],
  [0.78,0.99,0.87,0.59,1.17,0.72,0.93,0.46,1.07,0.84,1.35,0.69,0.89,0.57,1.03,0.80,0.30,1.13,0.91,0.75,1.26,0.65,0.83,0.96,0.55,1.09,0.81,1.55,0.71,0.94,0.83,1.05,0.69,1.29,0.94,0.54,1.12,0.80,0.98,0.45,1.19,0.75,1.03,0.90,0.66],
  [1.11,1.38,1.21,0.85,1.58,1.02,1.28,0.68,1.47,1.18,1.78,0.97,1.23,0.82,1.43,1.13,0.55,1.54,1.26,1.07,1.69,0.92,1.17,1.35,0.78,1.50,1.14,2.00,1.01,1.32,1.16,1.43,1.00,1.64,1.28,0.80,1.51,1.12,1.33,0.68,1.57,1.04,1.39,1.24,0.94],
  [1.29,1.06,1.53,0.92,1.23,1.40,0.79,1.17,1.64,1.02,1.33,1.13,0.86,1.48,1.20,0.96,1.80,1.09,1.28,0.70,1.37,1.19,1.00,1.57,0.88,1.24,1.43,1.07,0.55,1.32,1.16,1.41,0.99,1.60,1.27,0.82,1.48,1.12,1.32,0.70,1.54,1.05,1.37,1.23,0.95],
  [0.87,0.72,1.09,0.80,0.96,0.59,1.20,0.84,0.94,0.67,1.04,0.89,1.45,0.76,0.83,1.14,0.64,0.92,0.78,1.30,0.86,0.54,0.99,0.82,1.16,0.70,0.93,1.07,0.77,1.25,0.84,1.05,0.71,1.27,0.94,0.58,1.11,0.82,0.98,0.49,1.18,0.77,1.03,0.91,0.69]
];
const traceRed = [
  [1.05,1.32,0.90,1.46,1.13,0.81,1.26,0.99,1.38,0.87,1.21,1.57,0.94,1.10,1.30,0.76,1.16,1.03,1.49,0.89,1.24,1.07,0.83,1.35,1.00,1.66,0.95,1.18,0.80,1.28,1.14,0.85,1.40,0.96,1.23,0.71,1.34,1.05,0.88,1.59,1.00,1.27,0.77,1.18,0.93],
  [0.99,0.75,1.23,0.86,1.07,0.93,1.35,0.70,1.12,0.84,1.02,0.64,1.29,0.91,1.16,0.81,0.97,1.44,0.88,0.74,1.20,1.00,0.83,1.31,0.67,1.06,0.95,1.19,0.79,1.10,0.87,1.22,0.76,1.04,0.91,1.38,0.66,1.13,0.82,1.00,1.26,0.71,1.08,0.89,1.74],
  [0.74,0.60,0.93,0.79,0.50,1.05,0.67,0.84,0.71,1.20,0.56,0.89,0.76,0.62,0.99,0.46,0.81,0.70,1.12,0.64,0.87,0.58,0.78,1.36,0.68,0.92,0.53,0.82,0.72,0.98,0.69,0.90,0.57,1.03,0.77,0.62,0.85,0.49,1.24,0.73,0.96,0.58,0.81,0.66,1.09],
  [0.90,0.67,1.14,0.81,0.98,0.57,1.24,0.87,0.75,1.06,0.93,1.43,0.70,0.84,1.11,0.64,0.96,0.79,1.30,0.86,0.61,1.01,0.91,0.73,1.18,0.83,0.54,1.05,0.88,1.85,0.85,1.12,0.74,0.96,1.39,0.69,1.00,0.86,0.57,1.20,0.92,0.77,1.07,0.64,0.98],
  [0.98,0.75,1.20,0.87,1.06,0.64,1.32,0.93,1.11,0.80,0.97,1.46,0.71,1.02,0.89,1.25,0.78,1.08,0.96,0.61,1.15,0.85,1.38,0.94,0.73,1.03,1.90,0.88,1.10,0.82,0.93,1.20,0.82,1.04,1.48,0.76,1.08,0.95,0.64,1.27,1.00,0.84,1.15,0.72,1.06],
  [1.08,0.83,1.30,0.95,1.16,0.71,1.43,1.02,1.21,0.88,1.06,1.58,0.78,1.11,0.97,1.35,0.86,1.18,1.05,0.67,1.25,0.93,1.50,1.03,0.80,1.12,1.96,0.96,1.20,0.90,1.04,1.31,0.93,1.15,1.60,0.86,1.19,1.06,0.74,1.38,1.11,0.95,1.26,0.83,1.17],
  [0.94,0.72,1.16,0.84,1.02,0.61,1.27,0.89,1.07,0.77,0.93,1.40,0.68,0.98,0.86,1.20,0.75,1.04,0.92,0.58,1.11,0.82,1.33,0.90,0.70,0.99,1.78,0.85,1.06,0.79,0.90,1.17,0.79,1.01,1.45,0.73,1.05,0.92,0.61,1.24,0.97,0.81,1.12,0.69,1.03],
  [1.23,0.95,1.48,1.08,1.32,0.81,1.63,1.16,1.38,1.00,1.21,1.80,0.89,1.27,1.11,1.54,0.98,1.34,1.19,0.76,1.42,1.06,1.71,1.17,0.91,1.28,2.20,1.10,1.37,1.02,1.20,1.51,1.07,1.32,1.85,0.99,1.37,1.22,0.85,1.59,1.28,1.09,1.45,0.96,1.34],
  [1.19,1.46,0.96,1.34,1.11,0.84,1.55,1.23,1.02,1.40,1.17,0.77,1.31,1.64,1.06,1.26,0.91,1.49,1.15,1.37,0.99,2.05,1.22,0.86,1.33,1.12,1.58,1.00,1.29,1.18,1.27,0.94,1.49,1.13,1.34,0.80,1.55,1.20,1.01,1.73,1.15,1.41,0.89,1.29,1.07],
  [0.91,0.69,1.15,0.83,0.99,0.59,1.25,0.88,0.77,1.07,0.94,1.44,0.72,0.85,1.12,0.66,0.97,0.81,1.31,0.87,0.63,1.02,0.92,0.75,1.19,0.84,0.40,1.06,0.89,1.70,0.86,1.13,0.75,0.97,1.41,0.69,1.01,0.88,0.57,1.20,0.93,0.77,1.08,0.65,0.99],
  [1.12,0.86,1.35,0.99,1.20,0.74,1.49,1.06,1.26,0.91,1.10,1.64,0.81,1.15,1.01,1.40,0.89,1.23,1.09,0.70,1.30,0.97,1.56,1.07,0.83,1.17,2.00,1.00,1.25,0.93,1.16,0.83,1.37,1.01,1.23,0.69,1.43,1.09,0.89,1.61,1.04,1.30,0.78,1.18,0.96],
  [0.84,1.03,0.92,0.65,1.17,0.88,0.78,1.34,0.94,0.72,1.09,0.86,0.59,1.00,1.26,0.81,0.93,0.69,1.14,0.90,0.76,1.52,0.98,0.83,0.63,1.06,0.91,1.21,0.77,0.97,0.97,0.70,1.16,0.84,1.05,0.59,1.24,0.92,0.76,1.38,0.88,1.11,0.66,1.00,0.82],
  [0.73,0.54,0.93,0.66,0.80,0.46,1.01,0.71,0.62,0.86,0.76,1.17,0.57,0.68,0.90,0.52,0.78,0.64,1.06,0.70,0.49,0.82,0.74,0.60,0.96,0.67,0.35,0.85,0.72,1.45,0.76,0.52,0.93,0.65,0.83,0.43,0.99,0.72,0.58,1.13,0.68,0.89,0.50,0.79,0.63],
  [0.83,1.02,0.91,0.63,1.16,0.87,0.76,1.34,0.93,0.70,1.08,0.85,0.57,0.99,1.25,0.79,0.92,0.67,1.13,0.89,0.74,1.53,0.97,0.82,0.61,1.05,0.90,1.20,0.75,0.96,0.95,0.68,1.15,0.82,1.03,0.57,1.23,0.90,0.74,1.37,0.86,1.10,0.64,0.98,0.80],
  [0.99,0.76,1.21,0.88,1.07,0.65,1.33,0.94,1.12,0.81,0.98,1.47,0.72,1.03,0.90,1.26,0.79,1.09,0.97,0.62,1.16,0.86,1.39,0.95,0.74,1.04,1.85,0.89,1.11,0.83,1.03,0.76,1.23,0.90,1.11,0.65,1.31,0.98,0.82,1.45,0.94,1.18,0.72,1.06,0.88],
  [1.06,0.78,1.31,0.92,1.14,0.63,1.46,1.00,1.22,0.85,1.04,1.62,0.73,1.09,0.94,1.38,0.81,1.17,1.03,0.59,1.26,0.90,1.53,1.01,0.75,1.11,2.05,0.93,1.20,0.87,1.13,0.80,1.35,0.97,1.21,0.67,1.42,1.05,0.87,1.60,1.01,1.29,0.75,1.15,0.93],
  [0.88,0.63,1.11,0.76,0.95,0.51,1.24,0.83,1.02,0.68,0.86,1.40,0.60,0.91,0.78,1.19,0.67,0.98,0.85,0.47,1.06,0.74,1.32,0.84,0.62,0.92,1.80,0.77,1.00,0.70,0.93,0.64,1.15,0.79,1.02,0.52,1.24,0.88,0.71,1.39,0.83,1.09,0.60,0.97,0.77],
  [1.23,0.92,1.51,1.07,1.33,0.74,1.68,1.16,1.41,0.99,1.21,1.85,0.86,1.27,1.09,1.59,0.94,1.36,1.19,0.70,1.46,1.05,1.76,1.17,0.88,1.29,0.40,1.10,1.39,1.00,1.29,0.91,1.54,1.11,1.37,0.77,1.61,1.20,0.99,1.82,1.15,1.47,0.86,1.31,1.06],
  [1.18,1.47,0.95,1.34,1.10,0.83,1.56,1.22,1.01,1.41,1.16,0.76,1.31,1.66,1.05,1.26,0.90,1.50,1.14,1.37,0.98,2.10,1.21,0.85,1.33,1.11,1.60,0.99,1.29,1.17,1.28,0.93,1.51,1.11,1.35,0.78,1.58,1.19,1.00,1.78,1.14,1.45,0.87,1.30,1.06],
  [0.82,1.01,0.90,0.62,1.15,0.86,0.75,1.33,0.92,0.69,1.07,0.84,0.56,0.98,1.24,0.78,0.91,0.66,1.12,0.88,0.73,1.52,0.96,0.81,0.60,1.04,0.89,1.19,0.74,0.95,0.94,0.67,1.14,0.81,1.02,0.56,1.22,0.89,0.73,1.36,0.85,1.09,0.63,0.97,0.79]
];

const traceTicks = [
  [1,2],[1,2],[0,1],[0.5,1,1.5],[1,2],[1,2],[0.5,1,1.5],[1,2],[1,2],[1,2],
  [1,2],[1,2],[0.5,1,1.5],[1,2],[1,2],[1,2],[1,2],[1,2],[1,2],[1,2]
];
const iterTicks = [0, 1000, 2000, 3000, 4000];
const lastIter = 4999;

// === STYLE ===
const FONT_FAMILY = "'Noto Sans CJK JP', 'DejaVu Sans', sans-serif";
const TICK_FONT = { family: FONT_FAMILY, size: 12.3 };
const CHAIN_COLORS = ['#1f77b4', '#ff7f0e', '#2ca02c', '#d62728'];
const TRACE_COLORS = ['rgba(31,119,180,0.45)', 'rgba(255,127,14,0.45)', 'rgba(44,160,44,0.45)', 'rgba(214,39,40,0.45)'];
const ROW_PITCH = 149.26;
const PANEL_H = 149;

Chart.defaults.color = '#000';

// frame round the axes and the two-line title above it
const framePlugin = {
  id: 'frame',
  afterDatasetsDraw(chart, args, opts) {
    const { ctx, chartArea: a } = chart;
    ctx.save();
    ctx.strokeStyle = '#000';
    ctx.lineWidth = 1.1;
    ctx.strokeRect(a.left + 0.5, a.top + 0.5, a.right - a.left - 1, a.bottom - a.top - 1);
    ctx.fillStyle = '#000';
    ctx.font = '14.5px ' + FONT_FAMILY;
    ctx.textAlign = 'center';
    ctx.textBaseline = 'alphabetic';
    const cx = (a.left + a.right) / 2;
    ctx.fillText('w', cx, a.top - 25.5);
    ctx.fillText(opts.label, cx, a.top - 5.5);
    ctx.restore();
  }
};

function padded(lo, hi) {
  const m = (hi - lo) * 0.05;
  return [lo - m, hi + m];
}

function tickGrid() {
  return { display: true, drawOnChartArea: false, drawTicks: true, tickLength: 5, tickColor: '#000', tickWidth: 1 };
}

function fixedAxis(lo, hi, values, fmt, size, isX) {
  return {
    type: 'linear', min: lo, max: hi,
    afterBuildTicks: function(s) { s.ticks = values.map(function(v) { return { value: v }; }); },
    afterFit: function(s) { if (isX) { s.height = size; } else { s.width = size; } },
    grid: tickGrid(),
    border: { display: false },
    ticks: { color: '#000', font: TICK_FONT, padding: isX ? 3 : 4, autoSkip: false, maxRotation: 0, callback: fmt }
  };
}

const fig = document.getElementById('fig');
function addCanvas(left, top, w, h) {
  const c = document.createElement('canvas');
  c.width = w;
  c.height = h;
  c.style.left = left + 'px';
  c.style.top = top + 'px';
  c.style.width = w + 'px';
  c.style.height = h + 'px';
  fig.appendChild(c);
  return c;
}

const kdeSources = [kdeBlue, kdeOrange, kdeGreen, kdeRed];
const traceSources = [traceBlue, traceOrange, traceGreen, traceRed];

panelNames.forEach(function(name, i) {
  const top = Math.round(i * ROW_PITCH);
  const xs = kdeGrid[i];
  const range = padded(xs[0], xs[xs.length - 1]);

  // === DENSITY PANEL (left) ===
  const peak = Math.max.apply(null, kdeSources.map(function(src) { return Math.max.apply(null, src[i]); }));
  const kdeTickStep = kdeTicks[i][1] - kdeTicks[i][0];
  const kdeDigits = Math.abs(kdeTickStep - 0.5) < 1e-9 ? 1 : 2;

  new Chart(addCanvas(0, top, 594, PANEL_H), {
    type: 'line',
    data: {
      datasets: kdeSources.map(function(src, k) {
        return {
          data: xs.map(function(x, j) { return { x: x, y: src[i][j] }; }),
          borderColor: CHAIN_COLORS[k],
          borderWidth: 1.5,
          pointRadius: 0,
          cubicInterpolationMode: 'monotone',
          fill: false,
          order: 3 - k   // later chains drawn on top, as in the original
        };
      })
    },
    options: {
      animation: false,
      responsive: false,
      events: [],
      layout: { padding: { left: 18, right: 92, top: 46, bottom: 0 } },
      plugins: { legend: { display: false }, tooltip: { enabled: false }, frame: { label: name } },
      scales: {
        x: fixedAxis(range[0], range[1], kdeTicks[i], function(v) { return Number(v).toFixed(kdeDigits); }, 29, true),
        y: { display: false, min: -0.05 * peak, max: 1.05 * peak }
      }
    },
    plugins: [framePlugin]
  });

  // === TRACE PANEL (right) ===
  const yDigits = traceTicks[i].some(function(v) { return v % 1 !== 0; }) ? 1 : 0;

  new Chart(addCanvas(580, top, 608, PANEL_H), {
    type: 'line',
    data: {
      datasets: traceSources.map(function(src, k) {
        const vals = src[i];
        const step = (lastIter + 1) / (vals.length - 1);
        return {
          data: vals.map(function(v, j) { return { x: (j - 0.5 + k / 4) * step, y: v }; }),
          borderColor: TRACE_COLORS[k],
          borderWidth: 5,
          borderJoinStyle: 'round',
          pointRadius: 0,
          tension: 0,
          fill: false,
          order: 3 - k
        };
      })
    },
    options: {
      animation: false,
      responsive: false,
      events: [],
      layout: { padding: { left: 0, right: 84, top: 46, bottom: 0 } },
      plugins: { legend: { display: false }, tooltip: { enabled: false }, frame: { label: name } },
      scales: {
        x: fixedAxis(0, lastIter, iterTicks, function(v) { return String(v); }, 29, true),
        y: fixedAxis(range[0], range[1], traceTicks[i], function(v) { return Number(v).toFixed(yDigits); }, 39, false)
      }
    },
    plugins: [framePlugin]
  });
});
</script>
</body>
</html>
